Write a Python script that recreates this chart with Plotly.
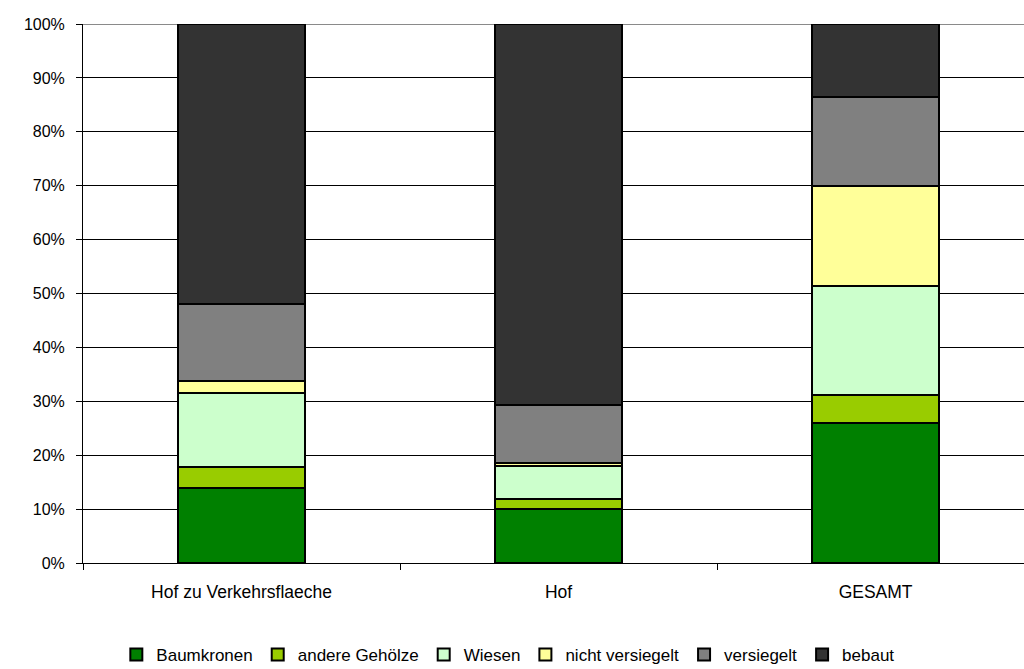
import plotly.graph_objects as go

categories = ["Hof zu Verkehrsflaeche", "Hof", "GESAMT"]
series_names = ["Baumkronen", "andere Gehölze", "Wiesen", "nicht versiegelt", "versiegelt", "bebaut"]
baumkronen = [14.0, 10.0, 25.9]
andere_gehoelze = [3.8, 1.9, 5.3]
wiesen = [13.8, 6.1, 20.1]
nicht_versiegelt = [2.1, 0.6, 18.6]
versiegelt = [14.4, 10.7, 16.6]
bebaut = [51.9, 70.7, 13.5]
colors = ["#008000", "#99CC00", "#CCFFCC", "#FFFF99", "#808080", "#333333"]
y_ticks = [0, 10, 20, 30, 40, 50, 60, 70, 80, 90, 100]

values = [baumkronen, andere_gehoelze, wiesen, nicht_versiegelt, versiegelt, bebaut]

FONT = "Liberation Sans, Arial, sans-serif"

fig = go.Figure()
for name, vals, col in zip(series_names, values, colors):
    fig.add_trace(go.Bar(
        x=categories, y=vals, name=name, width=0.4,
        marker=dict(color=col, line=dict(color="#000000", width=2)),
    ))

fig.update_layout(
    barmode="stack", barnorm="percent",
    width=1024, height=669,
    margin=dict(l=83, r=0, t=24, b=106, autoexpand=False),
    paper_bgcolor="white", plot_bgcolor="white",
    font=dict(family=FONT, size=17, color="#000000"),
    showlegend=True,
    legend=dict(orientation="h", x=0.452, xanchor="center",
                y=-0.137, yanchor="top",
                font=dict(size=17), traceorder="normal", itemwidth=30,
                tracegroupgap=0),
    bargap=0.6,
    shapes=[dict(type="line", xref="paper", yref="y", x0=0, x1=1, y0=100, y1=100,
                 line=dict(color="#8a8a8a", width=2), layer="below")],
)
fig.update_xaxes(
    type="category", range=[-0.5, 2.468],
    showline=True, linecolor="#000000", linewidth=1,
    ticks="outside", tickson="boundaries", ticklen=6, tickcolor="#000000",
    ticklabelstandoff=13, automargin=False,
    showgrid=False, tickfont=dict(size=17.5),
)
fig.update_yaxes(
    range=[0, 100], tickvals=y_ticks, ticktext=[f"{v}%" for v in y_ticks],
    showline=True, linecolor="#000000", linewidth=1,
    ticks="outside", ticklen=6, tickcolor="#000000",
    ticklabelstandoff=8, automargin=False,
    showgrid=True, gridcolor="#000000", gridwidth=1,
    zeroline=False, tickfont=dict(size=16),
)

fig.write_html("out.html")
